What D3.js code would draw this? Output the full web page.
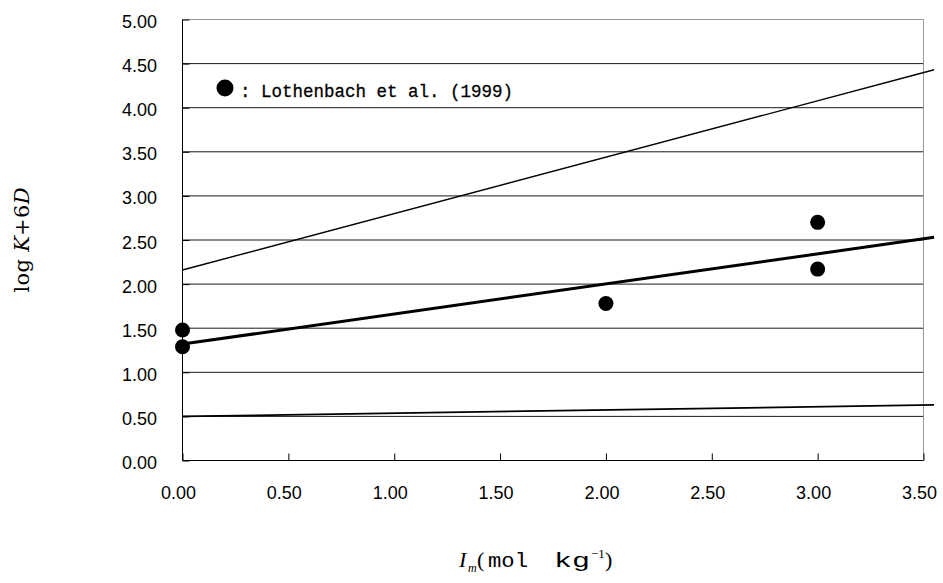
<!DOCTYPE html>
<html>
<head>
<meta charset="utf-8">
<script src="https://cdn.jsdelivr.net/npm/d3@7"></script>
<style>
  html, body { margin: 0; padding: 0; background: #fff; }
  svg { display: block; }
</style>
</head>
<body>
<svg id="chart" width="943" height="583"></svg>
<script>
// Axis ticks
const xTicks = [0, 0.5, 1.0, 1.5, 2.0, 2.5, 3.0, 3.5];
const yTicks = [0, 0.5, 1.0, 1.5, 2.0, 2.5, 3.0, 3.5, 4.0, 4.5, 5.0];

// Measured points (Lothenbach et al., 1999)
const obsI = [0, 0, 2.0, 3.0, 3.0];
const obsLogK = [1.48, 1.29, 1.78, 2.70, 2.17];

// Fitted lines: ionic strength endpoints and log K + 6D values
const lineI = [0, 3.55];
const upperLogK = [2.16, 4.43];
const middleLogK = [1.32, 2.53];
const lowerLogK = [0.50, 0.63];

const svg = d3.select("#chart");
const x = d3.scaleLinear().domain([0, 3.5]).range([182.5, 923.5]);
const y = d3.scaleLinear().domain([0, 5]).range([460.5, 19.5]);

// horizontal gridlines
svg.append("g").selectAll("line")
  .data(yTicks.filter(v => v > 0 && v < 5))
  .join("line")
  .attr("x1", x(0)).attr("x2", x(3.5))
  .attr("y1", d => y(d)).attr("y2", d => y(d))
  .attr("stroke", "#1a1a1a").attr("stroke-width", 1);

// frame top / right
svg.append("path")
  .attr("d", `M${x(0)},${y(5)}H${x(3.5)}V${y(0)}`)
  .attr("fill", "none").attr("stroke", "#999").attr("stroke-width", 1);

// bottom axis with inward ticks
const xAxis = d3.axisBottom(x).tickValues(xTicks).tickSize(-7).tickFormat("");
const gx = svg.append("g").attr("transform", `translate(0,${y(0)})`).call(xAxis);
gx.select(".domain").attr("stroke", "#000").attr("d", `M${x(0)},0H${x(3.5)}`);
gx.selectAll(".tick line").attr("stroke", "#000");

// left axis with inward ticks
const yAxis = d3.axisLeft(y).tickValues(yTicks).tickSize(-7).tickFormat("");
const gy = svg.append("g").attr("transform", `translate(${x(0)},0)`).call(yAxis);
gy.select(".domain").attr("stroke", "#000").attr("d", `M0,${y(5)}V${y(0)}`);
gy.selectAll(".tick line").attr("stroke", "#000");

// tick labels
const fmt = d3.format(".2f");
svg.append("g").selectAll("text")
  .data(xTicks).join("text")
  .attr("x", d => x(d) - 4).attr("y", 499)
  .attr("text-anchor", "middle")
  .attr("font-family", "'Liberation Sans', Arial, sans-serif")
  .attr("font-size", 18).attr("fill", "#000")
  .text(fmt);
svg.append("g").selectAll("text")
  .data(yTicks).join("text")
  .attr("x", 157).attr("y", d => y(d) + 8.5)
  .attr("text-anchor", "end")
  .attr("font-family", "'Liberation Sans', Arial, sans-serif")
  .attr("font-size", 18).attr("fill", "#000")
  .text(fmt);

// fitted lines
const line = d3.line().x(d => x(d[0])).y(d => y(d[1]));
const series = [
  { v: upperLogK, w: 1.4 },
  { v: middleLogK, w: 3 },
  { v: lowerLogK, w: 1.8 }
];
svg.append("g").selectAll("path")
  .data(series).join("path")
  .attr("d", s => line(lineI.map((i, k) => [i, s.v[k]])))
  .attr("fill", "none").attr("stroke", "#000")
  .attr("stroke-width", s => s.w);

// data points
svg.append("g").selectAll("circle")
  .data(obsI.map((i, k) => [i, obsLogK[k]]))
  .join("circle")
  .attr("cx", d => x(d[0])).attr("cy", d => y(d[1]))
  .attr("r", 7.5).attr("fill", "#000");

// legend
svg.append("circle").attr("cx", 225).attr("cy", 88).attr("r", 8.5).attr("fill", "#000");
svg.append("text")
  .attr("x", 240).attr("y", 96.5)
  .attr("font-family", "'Liberation Mono', 'Courier New', monospace")
  .attr("font-size", 19).attr("fill", "#000")
  .attr("stroke", "#000").attr("stroke-width", 0.3)
  .attr("textLength", 273).attr("lengthAdjust", "spacingAndGlyphs")
  .text(": Lothenbach et al. (1999)");

// y axis title
const yt = svg.append("text")
  .attr("transform", "translate(29,240) rotate(-90)")
  .attr("text-anchor", "middle")
  .attr("font-family", "'DejaVu Serif', 'Liberation Serif', serif")
  .attr("font-size", 21).attr("fill", "#000")
  .attr("textLength", 105).attr("lengthAdjust", "spacing");
yt.append("tspan").text("log ");
yt.append("tspan").attr("font-style", "italic").text("K");
yt.append("tspan").text("+6");
yt.append("tspan").attr("font-style", "italic").text("D");

// x axis title
const xt = svg.append("text")
  .attr("y", 566.5)
  .attr("font-family", "'Liberation Serif', 'DejaVu Serif', serif")
  .attr("font-size", 22).attr("fill", "#000");
xt.append("tspan").attr("x", 459).attr("font-style", "italic").text("I");
xt.append("tspan").attr("x", 468).attr("dy", 5).attr("font-size", 12).attr("font-style", "italic").text("m");
xt.append("tspan").attr("x", 477).attr("dy", -5).text("(");
xt.append("tspan").attr("x", 488)
  .attr("font-family", "'Liberation Mono', monospace").attr("font-size", 20)
  .attr("textLength", 40).attr("lengthAdjust", "spacingAndGlyphs").text("mol");
xt.append("tspan").attr("x", 554)
  .attr("font-family", "'Liberation Mono', monospace").attr("font-size", 20)
  .attr("textLength", 36).attr("lengthAdjust", "spacingAndGlyphs").text("kg");
xt.append("tspan").attr("x", 591).attr("dy", -9).attr("font-size", 13).text("−1");
xt.append("tspan").attr("x", 605).attr("dy", 9).text(")");
</script>
</body>
</html>
